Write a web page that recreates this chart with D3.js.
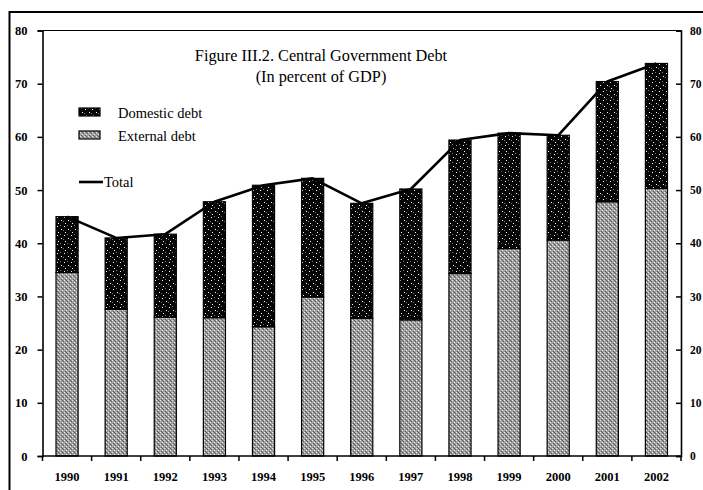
<!DOCTYPE html>
<html><head><meta charset="utf-8">
<script src="https://cdn.jsdelivr.net/npm/d3@7"></script>
<style>
html,body{margin:0;padding:0;background:#fff;}
svg{display:block;}
svg text{font-family:"Liberation Serif","DejaVu Serif",serif;}
</style></head>
<body>
<svg id="c" width="703" height="490"></svg>
<script>
const years = ["1990","1991","1992","1993","1994","1995","1996","1997","1998","1999","2000","2001","2002"];
const externalDebt = [34.5,27.6,26.1,26.0,24.3,29.9,25.9,25.6,34.3,39.0,40.6,47.8,50.3];
const totalDebt = [45.0,41.0,41.7,47.8,50.9,52.2,47.5,50.2,59.4,60.7,60.3,70.4,73.8];
const domesticDebt = totalDebt.map((t,i)=>+(t-externalDebt[i]).toFixed(1));
const yTicks = [0,10,20,30,40,50,60,70,80];
const titleLines = ["Figure III.2. Central Government Debt","(In percent of GDP)"];
const legendItems = ["Domestic debt","External debt"];

const svg = d3.select("#c");
const L=42.5, R=681, T=30.5, B=456;
const SERIF = "'Liberation Serif','DejaVu Serif',serif";

// patterns
const defs = svg.append("defs");
const pd = defs.append("pattern").attr("id","pDom").attr("patternUnits","userSpaceOnUse").attr("width",7).attr("height",9);
pd.append("rect").attr("width",7).attr("height",9).attr("fill","#050505");
[[1,1],[5,4],[2,7]].forEach(([x,y])=>pd.append("rect").attr("x",x).attr("y",y).attr("width",1).attr("height",1).attr("fill","#fff"));
[[4,0],[0,5]].forEach(([x,y])=>pd.append("rect").attr("x",x).attr("y",y).attr("width",1).attr("height",1).attr("fill","#777"));
const pe = defs.append("pattern").attr("id","pExt").attr("patternUnits","userSpaceOnUse").attr("width",4).attr("height",4);
pe.append("rect").attr("width",4).attr("height",4).attr("fill","#a2a2a2");
[[0,0],[2,2]].forEach(([x,y])=>pe.append("rect").attr("x",x).attr("y",y).attr("width",1).attr("height",1).attr("fill","#e8e8e8"));
[[1,3],[3,1],[2,0]].forEach(([x,y])=>pe.append("rect").attr("x",x).attr("y",y).attr("width",1).attr("height",1).attr("fill","#5a5a5a"));

// outer frame
svg.append("line").attr("x1",9).attr("x2",703).attr("y1",12).attr("y2",12).attr("stroke","#000").attr("stroke-width",2.2);
svg.append("line").attr("x1",9.5).attr("x2",9.5).attr("y1",11).attr("y2",490).attr("stroke","#000").attr("stroke-width",2);
// plot top border
svg.append("line").attr("x1",L).attr("x2",R).attr("y1",T).attr("y2",T).attr("stroke","#000").attr("stroke-width",1.2);

const x = d3.scaleBand().domain(years).range([L,R]).paddingInner(0.55).paddingOuter(0.275);
const y = d3.scaleLinear().domain([0,80]).range([B,T]);

// bars
const g = svg.append("g");
g.selectAll("rect.ext").data(years).join("rect").attr("class","ext")
 .attr("x",d=>x(d)).attr("width",x.bandwidth())
 .attr("y",(d,i)=>y(externalDebt[i])).attr("height",(d,i)=>y(0)-y(externalDebt[i]))
 .attr("fill","url(#pExt)").attr("stroke","#000").attr("stroke-width",1.2);
g.selectAll("rect.dom").data(years).join("rect").attr("class","dom")
 .attr("x",d=>x(d)).attr("width",x.bandwidth())
 .attr("y",(d,i)=>y(totalDebt[i])).attr("height",(d,i)=>y(totalDebt[i]-domesticDebt[i])-y(totalDebt[i]))
 .attr("fill","url(#pDom)").attr("stroke","#000").attr("stroke-width",1.2);

// total line
const line = d3.line().x((d,i)=>x(years[i])+x.bandwidth()/2).y(d=>y(d));
svg.append("path").datum(totalDebt).attr("d",line).attr("fill","none").attr("stroke","#000").attr("stroke-width",2.6).attr("stroke-linejoin","round");

// axes
const yl = svg.append("g").attr("transform",`translate(${L},0)`).call(d3.axisLeft(y).tickValues(yTicks).tickSize(5).tickPadding(10));
const yr = svg.append("g").attr("transform",`translate(${R},0)`).call(d3.axisRight(y).tickValues(yTicks).tickSize(-5).tickPadding(9));
const xb = svg.append("g").attr("transform",`translate(0,${B})`).call(d3.axisBottom(x).tickSize(0).tickPadding(16));
[yl,yr,xb].forEach(a=>{
  a.attr("font-family",null).attr("font-size",null);
  a.select(".domain").attr("stroke","#000").attr("stroke-width",1.6);
  a.selectAll(".tick line").attr("stroke","#000").attr("stroke-width",1.5);
  a.selectAll("text").style("font-family",SERIF).style("font-size","12.5px").style("font-weight","bold").attr("fill","#000");
});
yr.selectAll("text").style("font-size","11.5px");
xb.select(".domain").attr("d",`M${L},0H${R}`);
// category boundary ticks
const step = x.step();
const bounds = years.map(d=>x(d)-step*0.275).concat([R]);
xb.selectAll("line.bt").data(bounds).join("line").attr("class","bt")
 .attr("x1",d=>d).attr("x2",d=>d).attr("y1",0).attr("y2",5).attr("stroke","#000").attr("stroke-width",1.5);

// title
svg.append("g").selectAll("text").data(titleLines).join("text")
 .attr("x",321).attr("y",(d,i)=>61+i*21).attr("text-anchor","middle")
 .style("font-family",SERIF).style("font-size","16.3px").attr("fill","#000").text(d=>d);

// legend
const lg = svg.append("g");
lg.selectAll("rect").data(legendItems).join("rect")
 .attr("x",79).attr("y",(d,i)=>108+i*23).attr("width",21).attr("height",8)
 .attr("fill",(d,i)=>i===0?"url(#pDom)":"url(#pExt)").attr("stroke","#000").attr("stroke-width",1.2);
lg.selectAll("text").data(legendItems).join("text")
 .attr("x",118).attr("y",(d,i)=>118+i*23).style("font-family",SERIF).style("font-size","14.5px").attr("fill","#000").text(d=>d);
lg.append("line").attr("x1",79).attr("x2",103).attr("y1",182).attr("y2",182).attr("stroke","#000").attr("stroke-width",2.6);
lg.append("text").attr("x",104).attr("y",187).style("font-family",SERIF).style("font-size","14.5px").attr("fill","#000").text("Total");
</script>
</body></html>
